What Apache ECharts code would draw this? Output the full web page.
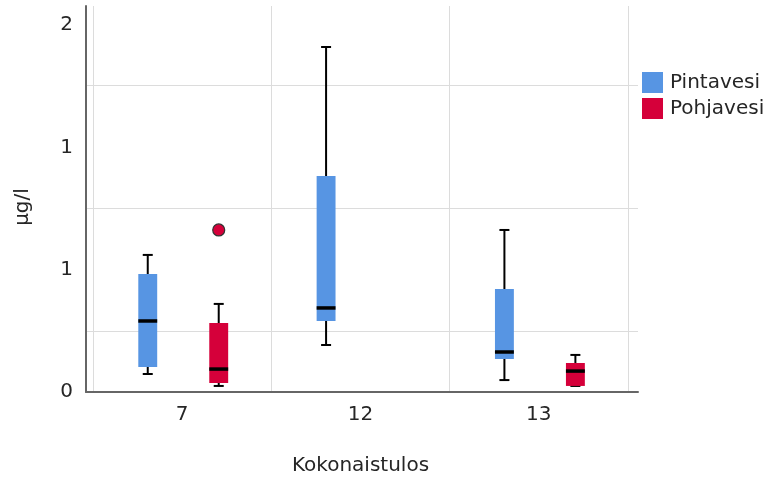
<!DOCTYPE html>
<html>
<head>
<meta charset="utf-8">
<script src="https://cdn.jsdelivr.net/npm/echarts@6/dist/echarts.min.js"></script>
<style>
  html, body { margin: 0; padding: 0; background: #fff; }
  #main { width: 780px; height: 482px; }
</style>
</head>
<body>
<div id="main"></div>
<script>
// luokat ja sarjat
var categories = ['7', '12', '13'];
var seriesNames = ['Pintavesi', 'Pohjavesi'];

// [luokka, min, Q1, mediaani, Q3, max]
var pintavesiBoxes = [
    [0, 0.098, 0.136, 0.387, 0.643, 0.747],
    [1, 0.256, 0.387, 0.458, 1.177, 1.880],
    [2, 0.065, 0.180, 0.218, 0.561, 0.883]
];
var pohjavesiBoxes = [
    [0, 0.033, 0.049, 0.125, 0.376, 0.480],
    [2, 0.033, 0.033, 0.114, 0.158, 0.202]
];
// poikkeavat havainnot [luokka, arvo]
var pohjavesiOutliers = [
    [0, 0.883]
];

var yMin = 0;
var yInterval = 1 / 3;
var yTop = 2.1035; // akseli jatkuu hieman ylimmän merkinnän yli
var gridValues = [1 / 3, 1, 5 / 3];

var colors = ['#5795e3', '#d5003a'];
var font = 'DejaVu Sans';
var textColor = '#262626';

var myChart = echarts.init(document.getElementById('main'));

function boxRenderer(offsetRatio, color) {
    return function (params, api) {
        var band = api.size([1, 0])[0];
        var off = band * offsetRatio;
        var half = band * 0.053;
        var cap = 5;
        var cat = api.value(0);
        var pMin = api.coord([cat, api.value(1)]);
        var pQ1 = api.coord([cat, api.value(2)]);
        var pMed = api.coord([cat, api.value(3)]);
        var pQ3 = api.coord([cat, api.value(4)]);
        var pMax = api.coord([cat, api.value(5)]);
        var x = pMin[0] + off;
        var lineStyle = { stroke: '#000', lineWidth: 2 };
        return {
            type: 'group',
            children: [
                { type: 'line', shape: { x1: x, y1: pMax[1], x2: x, y2: pMin[1] }, style: lineStyle },
                { type: 'line', shape: { x1: x - cap, y1: pMax[1], x2: x + cap, y2: pMax[1] }, style: lineStyle },
                { type: 'line', shape: { x1: x - cap, y1: pMin[1], x2: x + cap, y2: pMin[1] }, style: lineStyle },
                { type: 'rect', shape: { x: x - half, y: pQ3[1], width: half * 2, height: Math.max(pQ1[1] - pQ3[1], 1) }, style: { fill: color } },
                { type: 'line', shape: { x1: x - half, y1: pMed[1], x2: x + half, y2: pMed[1] }, style: { stroke: '#000', lineWidth: 3.5 } }
            ]
        };
    };
}

function outlierRenderer(offsetRatio, color) {
    return function (params, api) {
        var band = api.size([1, 0])[0];
        var p = api.coord([api.value(0), api.value(1)]);
        return {
            type: 'circle',
            shape: { cx: p[0] + band * offsetRatio, cy: p[1], r: 6 },
            style: { fill: color, stroke: '#333', lineWidth: 1.2 }
        };
    };
}

var option = {
    animation: false,
    textStyle: { fontFamily: font },
    legend: {
        data: seriesNames,
        orient: 'vertical',
        left: 637,
        top: 67,
        itemWidth: 21,
        itemHeight: 21,
        itemGap: 5,
        icon: 'rect',
        textStyle: { fontSize: 20, color: textColor, fontFamily: font, padding: [0, 0, 0, 2] }
    },
    grid: [
        // piirtoalue
        { left: 93, right: 152, top: 6, bottom: 90 },
        // akselikehys
        { left: 86, right: 142, top: 6, bottom: 90 }
    ],
    xAxis: [
        {
            type: 'category',
            gridIndex: 0,
            data: categories,
            axisLine: { show: false },
            axisTick: { show: false },
            axisLabel: { margin: 13, fontSize: 20, color: textColor, fontFamily: font },
            splitLine: { show: true, lineStyle: { color: '#dcdcdc', width: 1 } },
            name: 'Kokonaistulos',
            nameLocation: 'middle',
            nameGap: 64,
            nameTextStyle: { fontSize: 20, color: textColor, fontFamily: font }
        },
        {
            type: 'value',
            gridIndex: 1,
            min: 0,
            max: 1,
            axisLine: { show: true, lineStyle: { color: '#666', width: 2 } },
            axisTick: { show: false },
            axisLabel: { show: false },
            splitLine: { show: false }
        }
    ],
    yAxis: [
        {
            type: 'value',
            gridIndex: 0,
            min: yMin,
            max: yTop,
            interval: yInterval,
            axisLine: { show: false },
            axisTick: { show: false },
            splitLine: { show: false },
            axisLabel: {
                margin: 20,
                fontSize: 20,
                color: textColor,
                fontFamily: font,
                formatter: function (value) {
                    var k = value * 1.5;
                    if (Math.abs(k - Math.round(k)) < 1e-6) return String(Math.round(value));
                    return '';
                }
            },
            name: 'μg/l',
            nameLocation: 'middle',
            nameGap: 60,
            nameTextStyle: { fontSize: 20, color: textColor, fontFamily: font, padding: [0, 16, 0, 0] }
        },
        {
            type: 'value',
            gridIndex: 1,
            min: yMin,
            max: yTop,
            axisLine: { show: true, lineStyle: { color: '#666', width: 2 } },
            axisTick: { show: false },
            axisLabel: { show: false },
            splitLine: { show: false }
        }
    ],
    series: [
        {
            type: 'line',
            name: 'gridlines',
            xAxisIndex: 1,
            yAxisIndex: 1,
            data: [],
            silent: true,
            z: 0,
            markLine: {
                silent: true,
                z: 0,
                symbol: 'none',
                label: { show: false },
                lineStyle: { color: '#dcdcdc', width: 1, type: 'solid' },
                data: gridValues.map(function (v) { return { yAxis: v }; })
            }
        },
        {
            type: 'custom',
            name: seriesNames[0],
            xAxisIndex: 0,
            yAxisIndex: 0,
            itemStyle: { color: colors[0] },
            encode: { x: 0, y: [1, 2, 3, 4, 5] },
            renderItem: boxRenderer(-0.193, colors[0]),
            data: pintavesiBoxes,
            z: 3
        },
        {
            type: 'custom',
            name: seriesNames[1],
            xAxisIndex: 0,
            yAxisIndex: 0,
            itemStyle: { color: colors[1] },
            encode: { x: 0, y: [1, 2, 3, 4, 5] },
            renderItem: boxRenderer(0.205, colors[1]),
            data: pohjavesiBoxes,
            z: 3
        },
        {
            type: 'custom',
            name: 'Pohjavesi poikkeavat',
            xAxisIndex: 0,
            yAxisIndex: 0,
            encode: { x: 0, y: 1 },
            renderItem: outlierRenderer(0.205, colors[1]),
            data: pohjavesiOutliers,
            z: 4
        }
    ]
};

myChart.setOption(option);
</script>
</body>
</html>
